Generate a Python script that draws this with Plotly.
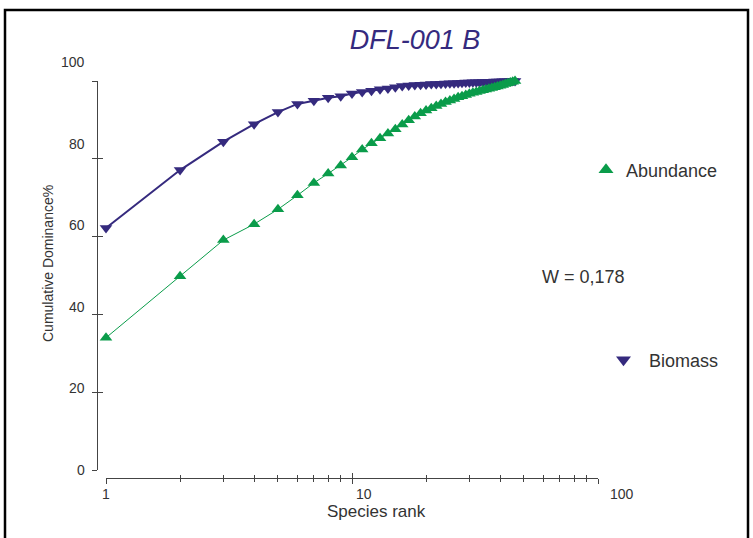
import math
import plotly.graph_objects as go

# ---------------- data ----------------
rank = list(range(1, 47))
abundance = [34.0, 49.8, 59.1, 63.2, 67.0, 70.6, 73.8, 76.2, 78.3, 80.4,
             82.4, 84.0, 85.3, 86.5, 87.6, 88.8, 89.9, 90.9, 91.7, 92.4,
             93.0, 93.6, 94.1, 94.6, 95.0, 95.4, 95.8, 96.1, 96.4, 96.7,
             97.0, 97.2, 97.4, 97.6, 97.8, 98.0, 98.2, 98.4, 98.6, 98.8,
             99.0, 99.2, 99.4, 99.6, 99.8, 100.0]
biomass = [62.2, 77.1, 84.4, 88.9, 92.0, 94.1, 94.9, 95.7, 96.1, 96.8,
           97.2, 97.5, 97.9, 98.1, 98.4, 98.7, 98.85, 98.95, 99.05, 99.1,
           99.2, 99.25, 99.3, 99.35, 99.4, 99.45, 99.5, 99.55, 99.6, 99.62,
           99.65, 99.68, 99.7, 99.73, 99.76, 99.79, 99.82, 99.85, 99.87, 99.9,
           99.92, 99.94, 99.96, 99.98, 99.99, 100.0]

x_ticks = [1, 10, 100]
x_tick_text = ["1", "10", "100"]
x_minor = [2, 3, 4, 5, 6, 7, 8, 9, 20, 30, 40, 50, 60, 70, 80, 90]
y_ticks = [0, 20, 40, 60, 80, 100]
y_tick_text = ["0", "20", "40", "60", "80", "100"]

title_text = "DFL-001 B"
x_title = "Species rank"
y_title = "Cumulative Dominance%"
stat_text = "W = 0,178"

# ---------------- style ----------------
W, H = 753, 538
GREEN = "#0a9c4a"
NAVY = "#352a7e"
TXT = "#333333"
AX = "#444444"
FONT = "Liberation Sans, Arial, sans-serif"


def px(x):
    return x / W


def py(y):
    return 1 - y / H


XDOM = [px(106), px(598)]
YDOM = [py(470), py(81)]
X_RANGE = [0, 2]
Y_RANGE = [0, 100]
LABEL_STRETCH = 1.049  # tick labels in the source are spread slightly wider than ticks

fig = go.Figure()

fig.add_trace(go.Scatter(
    x=rank, y=biomass, mode="lines+markers", name="Biomass",
    line=dict(color=NAVY, width=2),
    marker=dict(symbol="triangle-down", size=11, color=NAVY),
    showlegend=False, cliponaxis=False,
))
fig.add_trace(go.Scatter(
    x=rank, y=abundance, mode="lines+markers", name="Abundance",
    line=dict(color=GREEN, width=1),
    marker=dict(symbol="triangle-up", size=11, color=GREEN),
    showlegend=False, cliponaxis=False,
))
# legend entries
fig.add_trace(go.Scatter(
    x=[None], y=[None], mode="markers", name="Abundance",
    marker=dict(symbol="triangle-up", size=13, color=GREEN),
    legend="legend",
))
fig.add_trace(go.Scatter(
    x=[None], y=[None], mode="markers", name="Biomass",
    marker=dict(symbol="triangle-down", size=13, color=NAVY),
    legend="legend2",
))
# empty trace so the mirrored tick axes (inner half of the crossing ticks) are drawn
fig.add_trace(go.Scatter(
    x=[None], y=[None], xaxis="x2", yaxis="y2", mode="markers",
    showlegend=False, hoverinfo="skip",
))

axis_common = dict(showgrid=False, zeroline=False, showline=True,
                   linecolor=AX, linewidth=1, tickcolor=AX, tickwidth=1,
                   showticklabels=False, automargin=False, fixedrange=True)

fig.update_layout(
    width=W, height=H,
    margin=dict(l=0, r=0, t=0, b=0),
    paper_bgcolor="white", plot_bgcolor="white",
    font=dict(family=FONT, color=TXT),
    xaxis=dict(type="log", range=X_RANGE, domain=XDOM, anchor="free",
               position=py(478), tickvals=x_ticks, ticks="outside", ticklen=5,
               minor=dict(tickvals=x_minor, ticks="outside", ticklen=3,
                          tickcolor=AX, showgrid=False),
               **axis_common),
    xaxis2=dict(type="log", range=X_RANGE, domain=XDOM, anchor="free",
                overlaying="x", position=py(478), tickvals=x_ticks,
                ticks="inside", ticklen=5,
                minor=dict(tickvals=x_minor, ticks="inside", ticklen=3,
                           tickcolor=AX, showgrid=False),
                **axis_common),
    yaxis=dict(range=Y_RANGE, domain=YDOM, anchor="free", position=px(97),
               tickvals=y_ticks, ticks="outside", ticklen=5, **axis_common),
    yaxis2=dict(range=Y_RANGE, domain=YDOM, anchor="free", overlaying="y",
                position=px(97), side="left", tickvals=y_ticks,
                ticks="inside", ticklen=5, **axis_common),
    title=dict(text=title_text, x=px(415), y=py(40), xanchor="center",
               yanchor="middle", xref="paper", yref="paper",
               font=dict(family=FONT, size=27, color=NAVY, style="italic")),
    legend=dict(x=px(586), y=py(170), xanchor="left", yanchor="middle",
                bgcolor="rgba(0,0,0,0)", itemsizing="trace",
                font=dict(family=FONT, size=18, color=TXT)),
    legend2=dict(x=px(598), y=py(360), xanchor="left", yanchor="middle",
                 bgcolor="rgba(0,0,0,0)", itemsizing="trace", itemwidth=41,
                 font=dict(family=FONT, size=18, color=TXT)),
    showlegend=True,
)

annotations = []
# x tick labels
for v, t in zip(x_ticks, x_tick_text):
    frac = math.log10(v) * LABEL_STRETCH / (X_RANGE[1] - X_RANGE[0])
    annotations.append(dict(text=t, xref="paper", yref="paper",
                            x=XDOM[0] + (XDOM[1] - XDOM[0]) * frac, y=py(494),
                            xanchor="center", yanchor="middle", showarrow=False,
                            font=dict(size=14, color=TXT)))
# y tick labels
for v, t in zip(y_ticks, y_tick_text):
    frac = v * LABEL_STRETCH / (Y_RANGE[1] - Y_RANGE[0])
    annotations.append(dict(text=t, xref="paper", yref="paper",
                            x=px(87), y=YDOM[0] + (YDOM[1] - YDOM[0]) * frac,
                            xanchor="right", yanchor="middle", showarrow=False,
                            font=dict(size=14, color=TXT)))
# axis titles
annotations.append(dict(text=x_title, xref="paper", yref="paper",
                        x=px(376), y=py(511), xanchor="center", yanchor="middle",
                        showarrow=False, font=dict(size=17, color=TXT)))
annotations.append(dict(text=y_title, xref="paper", yref="paper",
                        x=px(48), y=py(264), xanchor="center", yanchor="middle",
                        textangle=-90, showarrow=False,
                        font=dict(size=14, color=TXT)))
# statistic
annotations.append(dict(text=stat_text, xref="paper", yref="paper",
                        x=px(583), y=py(277), xanchor="center", yanchor="middle",
                        showarrow=False, font=dict(size=18, color=TXT)))
fig.update_layout(annotations=annotations)

# outer frame
fig.add_shape(type="rect", xref="paper", yref="paper",
              x0=px(5), x1=px(748), y0=-0.05, y1=py(10),
              line=dict(color="black", width=2.5), fillcolor="rgba(0,0,0,0)")

fig.write_html("out.html")
